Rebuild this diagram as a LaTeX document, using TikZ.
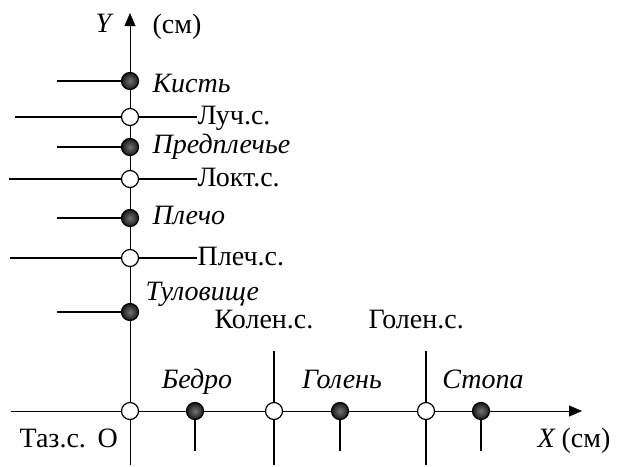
\documentclass[tikz,border=0pt]{standalone}
\usepackage{fontspec}
\setmainfont{Liberation Serif}
\usepackage{tikz}
\usetikzlibrary{arrows.meta,backgrounds}

\tikzset{
  sust/.style={circle,draw,fill=white,inner sep=0pt,minimum size=17pt},
  zveno/.style={circle,draw,inner color=black!55,outer color=black!90,inner sep=0pt,minimum size=17pt},
  txt/.style={inner sep=0pt,anchor=base west,font=\fontsize{28}{32}\selectfont},
  itxt/.style={txt,font=\fontsize{28}{32}\selectfont\itshape},
  os/.style={-{Triangle[length=13pt,width=11pt]}}
}

\begin{document}
\begin{tikzpicture}[x=1pt,y=-1pt,line width=1.2pt]
\useasboundingbox (0,0) rectangle (617,466);
\node[sust] (O) at (130,411) {};%начало координат
% звенья и суставы на оси Y
\foreach \name/\y/\kind/\xl in
  {kist/81/zveno/57, luch/117/sust/15, predpl/147/zveno/57, lokt/179/sust/9,
   plecho/218/zveno/57, plech/258/sust/10, tulov/312/zveno/57}
  {
   \node[\kind] (\name) at (130,\y) {};
   \coordinate (\name-l) at (\xl,\y);
   \draw (\name-l) -- (\name);
  }
\foreach \name/\y/\label in {luch/117/Луч.с., lokt/179/Локт.с., plech/258/Плеч.с.}
  {
   \node[txt] (\name-t) at (197,\y+7) {\label};
   \draw (\name) -- (\name -| \name-t.west);
  }
\foreach \name/\yb/\label in {kist/92/Кисть, predpl/153/Предплечье, plecho/224/Плечо}
   \node[itxt] (\name-t) at (152,\yb) {\label};
\node[itxt] (tulov-t) at (145,300) {Туловище};
% звенья и суставы на оси X
\foreach \name/\x/\label in {bedro/195/Бедро, golen/340/Голень, stopa/481/Стопа}
  {
   \node[zveno] (\name) at (\x,411) {};
   \coordinate (\name-d) at (\x,451);
   \draw (\name) -- (\name-d);
   \node[itxt,anchor=base] (\name-t) at (\x+2,388) {\label};
  }
\foreach \name/\x/\xt/\label in {koleno/274/214/Колен.с., golenost/426/368/Голен.с.}
  {
   \node[sust] (\name) at (\x,411) {};
   \coordinate (\name-u) at (\x,351);
   \coordinate (\name-d) at (\x,465);
   \draw (\name-u) -- (\name) -- (\name-d);
   \node[txt] (\name-t) at (\xt,328) {\label};
  }
% оси
\coordinate (ybot) at (130,465);
\coordinate (ytop) at (130,13);
\coordinate (xl) at (11,411);
\coordinate (xr) at (582,411);
\begin{scope}[on background layer]
\draw[os] (ybot) -- (ytop);%ось Y
\draw[os] (xl) -- (xr);%ось X
\end{scope}
\node[itxt] (Y) at (95,32) {Y};
\node[txt] (Ysm) at (152,33) {(см)};
\node[itxt] (X) at (537,447) {X};
\node[txt] (Xsm) at (561,447) {(см)};
\node[txt] (taz) at (19,447) {Таз.с.};
\node[txt] (O-t) at (97,447) {O};
\end{tikzpicture}
\end{document}
